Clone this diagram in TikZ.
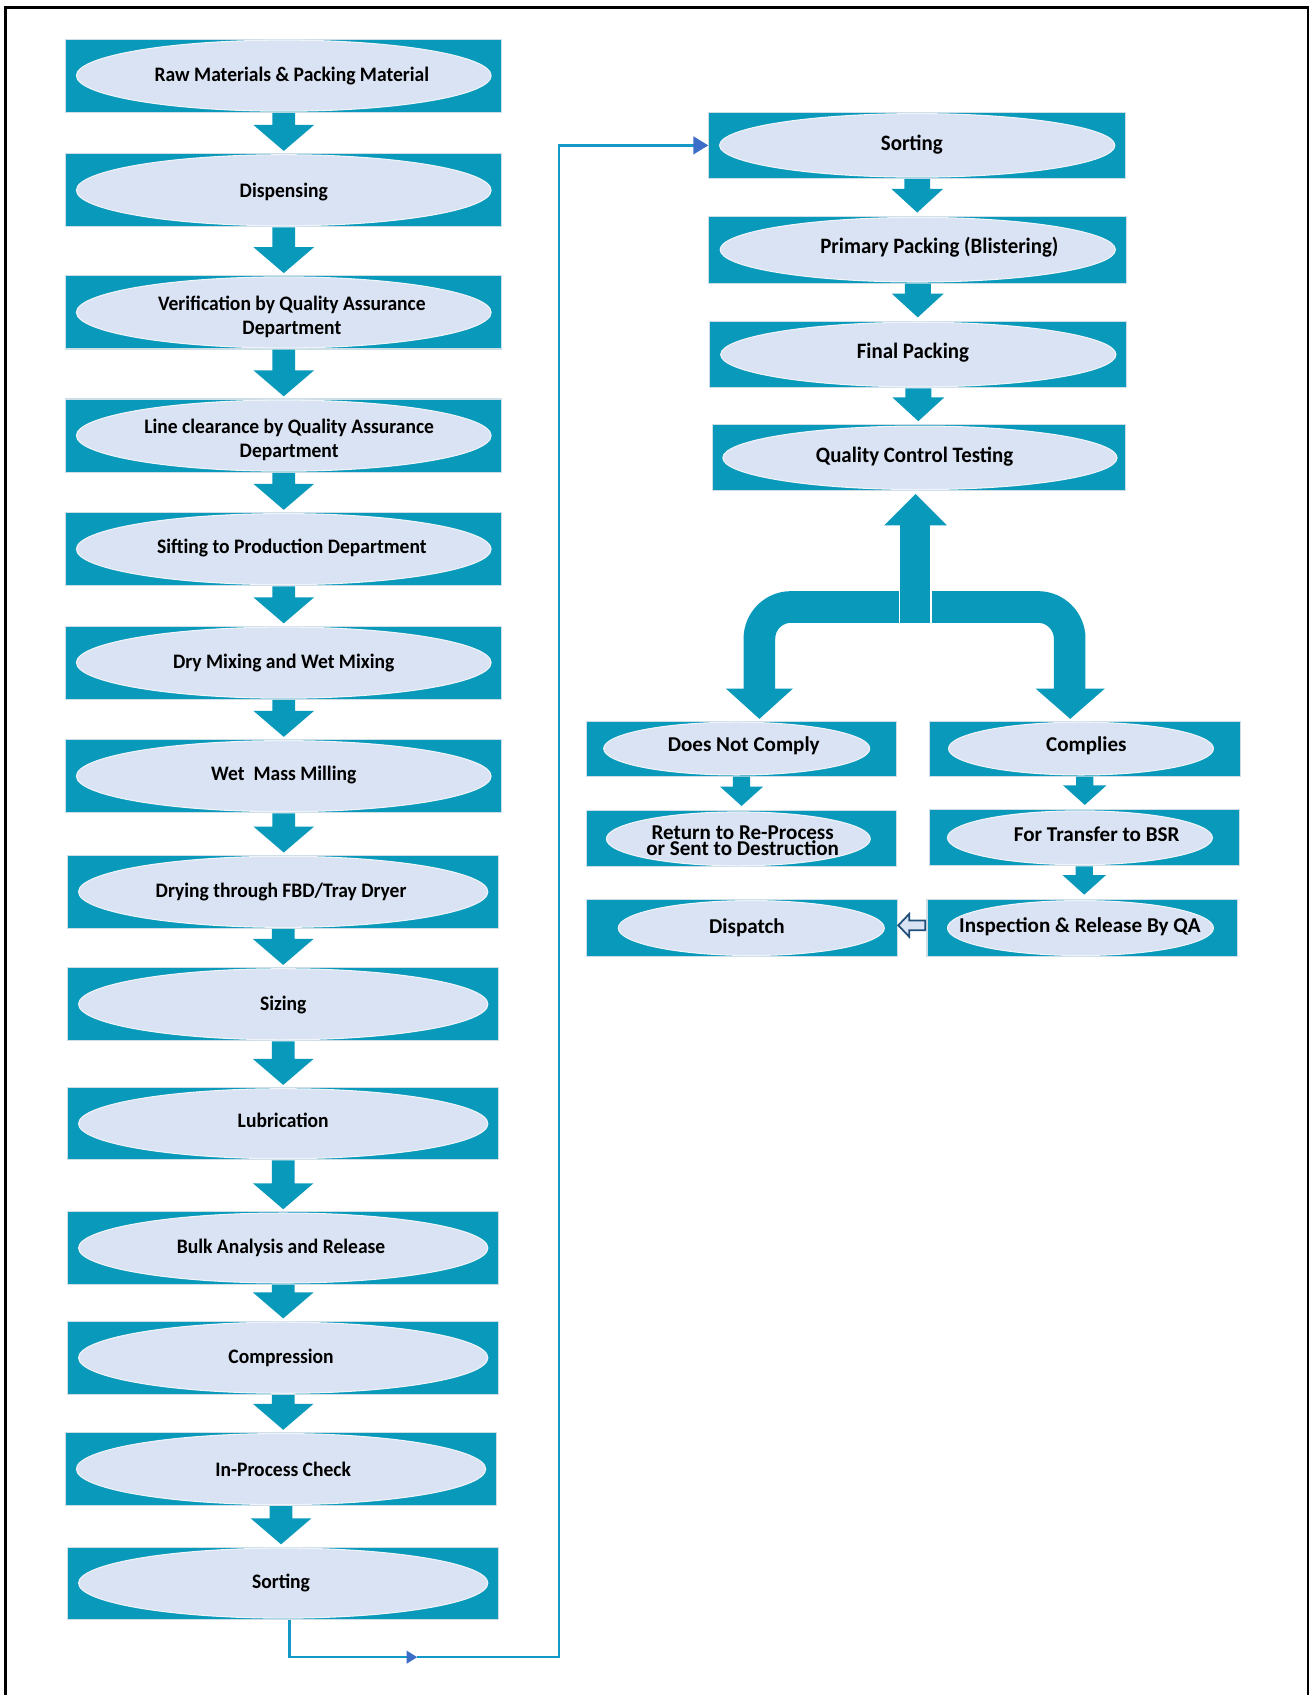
\documentclass[tikz,border=0pt]{standalone}
\usepackage{fontspec}
\setmainfont{Carlito}
\newfontfamily\condf{Carlito}[FakeStretch=0.95]
\usetikzlibrary{calc,arrows.meta,shapes.geometric}
\definecolor{tealb}{RGB}{9,154,187}
\definecolor{ellb}{RGB}{218,227,243}
\definecolor{edgeb}{RGB}{205,222,230}
\definecolor{connb}{RGB}{20,152,198}
\definecolor{tipb}{RGB}{60,110,200}
\definecolor{holline}{RGB}{31,78,121}
\newcommand\px{0.6125pt}
\newcommand\stage[9]{%
 \node[boxr, minimum width={(#3-#2)*\px}, minimum height={(#5-#4)*\px}] (#1) at ({(#2+#3)/2},{(#4+#5)/2}) {};
 \node[ell, minimum width={#6*\px}, minimum height={(#5-#4-2)*\px}] (#1e) at ($(#1)+(#7,0)$) {};
 \node[lbl] (#1t) at ($(#1)+(#8)$) {#9};}
\newcommand\barrow[6]{%
 \coordinate (bt) at (#1.south);
 \coordinate (tp) at ($(bt |- #2.north)+(0,-#6)$);
 \coordinate (bh) at ($(tp)+(0,-#5)$);
 \fill[blockarrow] ($(bt)+(-#3,0)$) -- ($(bt)+(#3,0)$) -- ($(bh)+(#3,0)$) -- ($(bh)+(#4,0)$) -- (tp) -- ($(bh)+(-#4,0)$) -- ($(bh)+(-#3,0)$) -- cycle;}
\begin{document}
\begin{tikzpicture}[x=0.0216cm, y=-0.0216cm,
  boxr/.style={rectangle, fill=tealb, draw=edgeb, line width=0.6pt, inner sep=0pt},
  ell/.style={ellipse, fill=ellb, draw=white!60!ellb, line width=0.6pt, inner sep=0pt},
  lbl/.style={inner sep=0pt, align=center, text=black, font=\condf\bfseries\fontsize{11.7}{14}\selectfont},
  blockarrow/.style={fill=tealb},
  conn/.style={draw=connb, line width=1.4pt}]
\useasboundingbox (0,0) rectangle (1214,1568);
\fill[white] (0,0) rectangle (1214,1568);
\draw[black, line width=1.3pt] (5,1600) -- (5,7) -- (1210,7) -- (1210,1600);

% left column
\stage{a1}{60}{465}{36}{104}{385}{0}{7.5,0}{Raw Materials \& Packing Material}
\stage{a2}{60}{465}{142}{210}{385}{0}{0,2}{Dispensing}
\stage{a3}{60}{465}{255}{323}{385}{0}{7.5,4}{Verification by Quality Assurance\\Department}
\stage{a4}{60}{465}{369}{437}{385}{0}{5,4}{Line clearance by Quality Assurance\\Department}
\stage{a5}{60}{465}{474}{542}{385}{0}{7.5,-1}{Sifting to Production Department}
\stage{a6}{60}{465}{579}{647}{385}{0}{0,0}{Dry Mixing and Wet Mixing}
\stage{a7}{60}{465}{684}{752}{385}{0}{0,-1}{Wet\ \ Mass Milling}
\stage{a8}{62}{462}{791}{859}{380}{0}{-2,0}{Drying through FBD/Tray Dryer}
\stage{a9}{62}{462}{895}{963}{380}{0}{0,1}{Sizing}
\stage{a10}{62}{462}{1006}{1073}{380}{0}{0,-3}{Lubrication}
\stage{a11}{62}{462}{1121}{1188}{380}{0}{-2,0}{Bulk Analysis and Release}
\stage{a12}{62}{462}{1222}{1290}{380}{0}{-2,0}{Compression}
\stage{a13}{60}{460}{1325}{1393}{380}{0}{2,0}{In-Process Check}
\stage{a14}{62}{462}{1431}{1498}{380}{0}{-2,0}{Sorting}

% right column
\begin{scope}[lbl/.append style={font=\condf\bfseries\fontsize{12.5}{14}\selectfont}]
\stage{b1}{655}{1042}{104}{165}{367}{0}{-5,-1}{Sorting}
\stage{b2}{655}{1043}{200}{262}{367}{0}{20,-2}{Primary Packing (Blistering)}
\stage{b3}{656}{1043}{297}{359}{367}{0}{-5,-2}{Final Packing}
\stage{b4}{658}{1042}{393}{454}{366}{1}{-4,-1}{Quality Control Testing}
\end{scope}

% lower section
\begin{scope}[lbl/.append style={font=\bfseries\fontsize{12}{9.2}\selectfont}]
\stage{c1}{542}{830}{667}{718}{247}{-4.5}{2,-3}{Does Not Comply}
\stage{d1}{859}{1148}{667}{718}{246}{-3.5}{1.5,-3}{Complies}
\stage{c2}{542}{830}{750}{802}{245}{-3}{1,2}{Return to Re-Process\\or Sent to Destruction}
\stage{d2}{859}{1147}{749}{801}{246}{-4}{11.5,-3}{For Transfer to BSR}
\stage{c3}{542}{831}{832}{885}{247}{8.5}{4.5,0}{Dispatch}
\stage{d3}{857}{1145}{832}{885}{247}{-1.5}{-2,-1.5}{Inspection \& Release By QA}
\end{scope}

% block arrows
\foreach \i [evaluate=\i as \j using int(\i+1)] in {1,...,13}{\barrow{a\i}{a\j}{10.5}{28}{24}{2}}
\barrow{b1}{b2}{12}{24}{22}{3}
\barrow{b2}{b3}{12}{24}{22}{3}
\barrow{b3}{b4}{12}{24}{22}{3}
\barrow{c1}{c2}{8}{20}{18}{4}
\barrow{d1}{d2}{8}{20}{18}{4}
\barrow{d2}{d3}{8}{20}{18}{4}

% branching arrow below QC
\draw[tealb, line width=18pt, rounded corners=18pt] (847,561.5) -| (702.5,638);
\draw[tealb, line width=18pt, rounded corners=18pt] (847,561.5) -| (989.5,638);
\fill[tealb] (671.5,637) -- (733.5,637) -- (702.5,665) -- cycle;
\fill[tealb] (958,637) -- (1022,637) -- (990,665) -- cycle;
\filldraw[fill=tealb, draw=white, line width=1pt] (832,484) rectangle (861.5,577);
\fill[tealb] (818,486) -- (876,486) -- (847,457) -- cycle;

% hollow arrow Inspection -> Dispatch
\draw[fill=ellb, draw=holline, line width=1pt, line join=miter] (831,856) -- (841,845.5) -- (841,851.5) -- (856,851.5) -- (856,860.5) -- (841,860.5) -- (841,866.5) -- cycle;

% thin connector from Sorting to Sorting
\coordinate (m1) at (386,1533);
\coordinate (m2) at (517,1533);
\draw[conn, -{Triangle[length=6pt,width=7pt,color=tipb]}] ($(a14.south)+(6,0)$) |- (m1);
\draw[conn, -{Triangle[length=8.5pt,width=10pt,color=tipb]}] (m1) -- (m2) |- (b1.west);
\end{tikzpicture}
\end{document}
